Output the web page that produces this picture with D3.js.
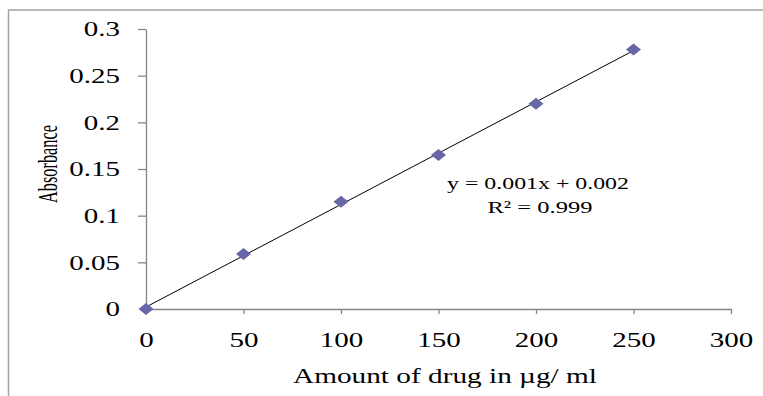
<!DOCTYPE html>
<html>
<head>
<meta charset="utf-8">
<script src="https://cdn.jsdelivr.net/npm/d3@7"></script>
<style>
  body { margin: 0; background: #fff; }
  svg text { font-family: "Liberation Serif", "Times New Roman", serif; fill: #000; }
</style>
</head>
<body>
<script>
// calibration data: amount of drug (ug/ml) vs absorbance
var amounts = [0, 50, 100, 150, 200, 250];
var absorbance = [0, 0.059, 0.115, 0.165, 0.220, 0.278];
var xTicks = [0, 50, 100, 150, 200, 250, 300];
var yTicks = [0, 0.05, 0.1, 0.15, 0.2, 0.25, 0.3];
var eqLabel = "y = 0.001x + 0.002";
var r2Label = "R\u00B2 = 0.999";

var W = 763, H = 396;
var svg = d3.select("body").append("svg").attr("width", W).attr("height", H);

// outer frame (only top and left edges show)
svg.append("rect")
  .attr("x", 8.5).attr("y", 10)
  .attr("width", 900).attr("height", 600)
  .attr("fill", "none").attr("stroke", "#a3a3a3").attr("stroke-width", 1.5);

var x = d3.scaleLinear().domain([0, 300]).range([146, 731]);
var y = d3.scaleLinear().domain([0, 0.3]).range([309, 29]);

// the picture is stretched sideways, so text is too
var sx = 1.45;

var yAxis = svg.append("g")
  .attr("transform", "translate(" + x(0) + ",0)")
  .call(d3.axisLeft(y).tickValues(yTicks).tickSize(8).tickSizeOuter(0)
    .tickFormat(function(d) { return String(+d.toFixed(2)); }));
yAxis.selectAll(".tick text")
  .attr("x", -26 / sx).attr("dy", "0.34em")
  .attr("transform", "scale(" + sx + ",1)")
  .style("font-size", "20px");

var xAxis = svg.append("g")
  .attr("transform", "translate(0," + y(0) + ")")
  .call(d3.axisBottom(x).tickValues(xTicks).tickSize(5).tickSizeOuter(0)
    .tickFormat(d3.format("d")));
xAxis.selectAll(".tick text")
  .attr("y", 38).attr("dy", 0)
  .attr("transform", "scale(" + sx + ",1)")
  .style("font-size", "20px");

svg.selectAll(".domain, .tick line")
  .attr("stroke", "#868686").attr("stroke-width", 1.3);
svg.selectAll(".tick line").filter(function(d) { return d === 0; }).remove();

// least squares trend line
var mx = d3.mean(amounts), my = d3.mean(absorbance);
var sxy = d3.sum(amounts, function(v, i) { return (v - mx) * (absorbance[i] - my); });
var sxx = d3.sum(amounts, function(v) { return (v - mx) * (v - mx); });
var slope = sxy / sxx, icpt = my - slope * mx;
var x0 = d3.min(amounts), x1 = d3.max(amounts);
svg.append("line")
  .attr("x1", x(x0)).attr("y1", y(icpt + slope * x0))
  .attr("x2", x(x1)).attr("y2", y(icpt + slope * x1))
  .attr("stroke", "#000").attr("stroke-width", 1);

// diamond markers
var pts = amounts.map(function(a, i) { return { a: a, b: absorbance[i] }; });
svg.selectAll("path.pt")
  .data(pts)
  .enter()
  .append("path")
    .attr("class", "pt")
    .attr("d", "M0,-6L7.5,0L0,6L-7.5,0Z")
    .attr("transform", function(d) { return "translate(" + x(d.a) + "," + y(d.b) + ")"; })
    .attr("fill", "#6767a8");

// equation labels
svg.append("text")
  .attr("x", 538).attr("y", 189)
  .attr("text-anchor", "middle")
  .attr("textLength", 182).attr("lengthAdjust", "spacingAndGlyphs")
  .style("font-size", "17px")
  .text(eqLabel);
svg.append("text")
  .attr("x", 540).attr("y", 213)
  .attr("text-anchor", "middle")
  .attr("textLength", 105).attr("lengthAdjust", "spacingAndGlyphs")
  .style("font-size", "17px")
  .text(r2Label);

// axis titles
svg.append("text")
  .attr("x", 445).attr("y", 383)
  .attr("text-anchor", "middle")
  .attr("textLength", 304).attr("lengthAdjust", "spacingAndGlyphs")
  .style("font-size", "21px")
  .text("Amount of drug in \u00B5g/ ml");

svg.append("text")
  .attr("transform", "translate(57,164) rotate(-90)")
  .attr("text-anchor", "middle")
  .attr("textLength", 78).attr("lengthAdjust", "spacingAndGlyphs")
  .style("font-size", "27px")
  .text("Absorbance");
</script>
</body>
</html>
